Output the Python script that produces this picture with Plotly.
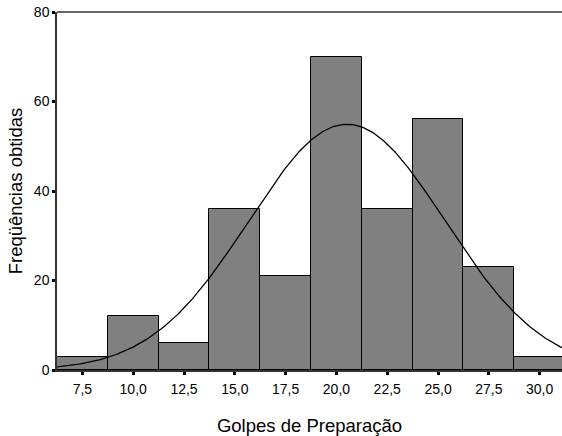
import numpy as np
import plotly.graph_objects as go

bin_centers = [7.5, 10.0, 12.5, 15.0, 17.5, 20.0, 22.5, 25.0, 27.5, 30.0]
counts = [3, 12, 6, 36, 21, 70, 36, 56, 23, 3]
x_tick_vals = [7.5, 10.0, 12.5, 15.0, 17.5, 20.0, 22.5, 25.0, 27.5, 30.0]
x_tick_text = ["7,5", "10,0", "12,5", "15,0", "17,5", "20,0", "22,5", "25,0", "27,5", "30,0"]
y_tick_vals = [0, 20, 40, 60, 80]
bin_width = 2.5

# Normal curve fitted to the grouped data
c = np.array(bin_centers)
n = np.array(counts)
N = n.sum()
mean = (c * n).sum() / N
sd = np.sqrt(((c - mean) ** 2 * n).sum() / (N - 1))
xs = np.linspace(6.25, 31.1, 300)
ys = N * bin_width / (sd * np.sqrt(2 * np.pi)) * np.exp(-0.5 * ((xs - mean) / sd) ** 2)

fig = go.Figure()
fig.add_trace(go.Bar(x=bin_centers, y=counts, width=bin_width,
                     marker=dict(color="#808080", line=dict(color="#000000", width=1))))
fig.add_trace(go.Scatter(x=xs, y=ys, mode="lines", line=dict(color="#000000", width=1.3)))

font = "Liberation Sans, Arial, sans-serif"
fig.update_layout(
    width=562, height=436,
    margin=dict(l=57, r=0, t=12, b=66),
    plot_bgcolor="white", paper_bgcolor="white",
    showlegend=False, bargap=0,
    font=dict(family=font, color="#000000", size=14),
    xaxis=dict(range=[6.25, 31.1], tickvals=x_tick_vals, ticktext=x_tick_text,
               showgrid=False, zeroline=False, showline=True, linecolor="#333333", linewidth=1.5,
               ticks="outside", ticklen=3, tickwidth=3, tickcolor="#000000",
               tickfont=dict(size=14), ticklabelstandoff=2,
               title=dict(text="Golpes de Preparação", font=dict(size=18.5), standoff=24)),
    yaxis=dict(range=[0, 80], tickvals=y_tick_vals,
               showgrid=False, zeroline=False, showline=True, linecolor="#333333", linewidth=1.5,
               ticks="outside", ticklen=3, tickwidth=3, tickcolor="#000000",
               tickfont=dict(size=14),
               title=dict(text="Freqüências obtidas", font=dict(size=18.5), standoff=6)),
    shapes=[dict(type="line", xref="paper", yref="paper", x0=0, x1=1, y0=1, y1=1,
                 line=dict(color="#333333", width=1.5))],
)
fig.write_html("out.html")
